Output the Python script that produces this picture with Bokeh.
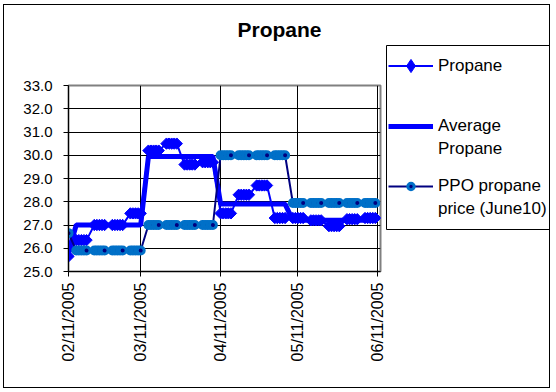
import pandas as pd
from math import pi
from bokeh.plotting import figure
from bokeh.layouts import row, column
from bokeh.models import (ColumnDataSource, FixedTicker, Legend, LegendItem,
                          PrintfTickFormatter, Range1d, InlineStyleSheet, Label)
from bokeh.embed import file_html
from bokeh.resources import INLINE

# ---------------- data ----------------
dates = [
    "2005-02-11",
    "2005-02-14", "2005-02-15", "2005-02-16", "2005-02-17", "2005-02-18",
    "2005-02-21", "2005-02-22", "2005-02-23", "2005-02-24", "2005-02-25",
    "2005-02-28", "2005-03-01", "2005-03-02", "2005-03-03", "2005-03-04",
    "2005-03-07", "2005-03-08", "2005-03-09", "2005-03-10", "2005-03-11",
    "2005-03-14", "2005-03-15", "2005-03-16", "2005-03-17", "2005-03-18",
    "2005-03-21", "2005-03-22", "2005-03-23", "2005-03-24", "2005-03-25",
    "2005-03-28", "2005-03-29", "2005-03-30", "2005-03-31", "2005-04-01",
    "2005-04-04", "2005-04-05", "2005-04-06", "2005-04-07", "2005-04-08",
    "2005-04-11", "2005-04-12", "2005-04-13", "2005-04-14", "2005-04-15",
    "2005-04-18", "2005-04-19", "2005-04-20", "2005-04-21", "2005-04-22",
    "2005-04-25", "2005-04-26", "2005-04-27", "2005-04-28", "2005-04-29",
    "2005-05-02", "2005-05-03", "2005-05-04", "2005-05-05", "2005-05-06",
    "2005-05-09", "2005-05-10", "2005-05-11", "2005-05-12", "2005-05-13",
    "2005-05-16", "2005-05-17", "2005-05-18", "2005-05-19", "2005-05-20",
    "2005-05-23", "2005-05-24", "2005-05-25", "2005-05-26", "2005-05-27",
    "2005-05-30", "2005-05-31", "2005-06-01", "2005-06-02", "2005-06-03",
    "2005-06-06", "2005-06-07", "2005-06-08", "2005-06-09", "2005-06-10",
]

propane = [
    25.65,
    26.35, 26.35, 26.35, 26.35, 26.35,
    27.0, 27.0, 27.0, 27.0, 27.0,
    27.0, 27.0, 27.0, 27.0, 27.0,
    27.5, 27.5, 27.5, 27.5, 27.5,
    30.2, 30.2, 30.2, 30.2, 30.2,
    30.5, 30.5, 30.5, 30.5, 30.5,
    29.6, 29.6, 29.6, 29.6, 29.6,
    29.7, 29.7, 29.7, 29.7, 29.7,
    27.5, 27.5, 27.5, 27.5, 27.5,
    28.3, 28.3, 28.3, 28.3, 28.3,
    28.7, 28.7, 28.7, 28.7, 28.7,
    27.3, 27.3, 27.3, 27.3, 27.3,
    27.3, 27.3, 27.3, 27.3, 27.3,
    27.2, 27.2, 27.2, 27.2, 27.2,
    26.95, 26.95, 26.95, 26.95, 26.95,
    27.25, 27.25, 27.25, 27.25, 27.25,
    27.3, 27.3, 27.3, 27.3, 27.3,
]

avg_propane = [
    25.85,
    27.0, 27.0, 27.0, 27.0, 27.0,
    27.0, 27.0, 27.0, 27.0, 27.0,
    27.0, 27.0, 27.0, 27.0, 27.0,
    27.0, 27.0, 27.0, 27.0, 27.0,
    29.95, 29.95, 29.95, 29.95, 29.95,
    29.95, 29.95, 29.95, 29.95, 29.95,
    29.95, 29.95, 29.95, 29.95, 29.95,
    29.95, 29.95, 29.95, 29.95, 29.95,
    27.9, 27.9, 27.9, 27.9, 27.9,
    27.9, 27.9, 27.9, 27.9, 27.9,
    27.9, 27.9, 27.9, 27.9, 27.9,
    27.9, 27.9, 27.9, 27.9, 27.9,
    27.2, 27.2, 27.2, 27.2, 27.2,
    27.2, 27.2, 27.2, 27.2, 27.2,
    27.2, 27.2, 27.2, 27.2, 27.2,
    27.2, 27.2, 27.2, 27.2, 27.2,
    27.2, 27.2, 27.2, 27.2, 27.2,
]

ppo_price = [
    26.65,
    25.9, 25.9, 25.9, 25.9, 25.9,
    25.9, 25.9, 25.9, 25.9, 25.9,
    25.9, 25.9, 25.9, 25.9, 25.9,
    25.9, 25.9, 25.9, 25.9, 25.9,
    27.0, 27.0, 27.0, 27.0, 27.0,
    27.0, 27.0, 27.0, 27.0, 27.0,
    27.0, 27.0, 27.0, 27.0, 27.0,
    27.0, 27.0, 27.0, 27.0, 27.0,
    30.0, 30.0, 30.0, 30.0, 30.0,
    30.0, 30.0, 30.0, 30.0, 30.0,
    30.0, 30.0, 30.0, 30.0, 30.0,
    30.0, 30.0, 30.0, 30.0, 30.0,
    27.95, 27.95, 27.95, 27.95, 27.95,
    27.95, 27.95, 27.95, 27.95, 27.95,
    27.95, 27.95, 27.95, 27.95, 27.95,
    27.95, 27.95, 27.95, 27.95, 27.95,
    27.95, 27.95, 27.95, 27.95, 27.95,
]

tick_dates = ["2005-02-11", "2005-03-11", "2005-04-11", "2005-05-11", "2005-06-11"]
tick_labels = ["02/11/2005", "03/11/2005", "04/11/2005", "05/11/2005", "06/11/2005"]
y_ticks = [25, 26, 27, 28, 29, 30, 31, 32, 33]
x_start, x_end = "2005-02-11", "2005-06-12"

title_text = "Propane"
# legend texts: (first line, second line)
legend_lines = [("Propane", None),
                ("Average", "Propane"),
                ("PPO propane", "price (June10)")]


def ms(s):
    return int(pd.Timestamp(s).value // 10**6)


FONT = "Liberation Sans"
BLUE = "#0000FF"
NAVY = "#000080"
SKY = "#0070C8"

src = ColumnDataSource(dict(x=pd.to_datetime(dates), propane=propane,
                            avg=avg_propane, ppo=ppo_price))

# ---------------- title strip ----------------
t = figure(width=547, height=40, x_range=Range1d(0, 547), y_range=Range1d(0, 40),
           output_backend="svg", toolbar_location=None,
           x_axis_location=None, y_axis_location=None, min_border=0)
t.grid.visible = False
t.outline_line_color = None
t.background_fill_color = "white"
t.border_fill_color = "white"
t.frame_align = False
t.add_layout(Label(x=276, y=15, text=title_text, text_align="center",
                   text_baseline="middle", text_font=FONT,
                   text_font_size="21px", text_font_style="bold",
                   text_color="black"))

# ---------------- main chart ----------------
p = figure(width=382, height=344, x_axis_type="datetime",
           x_range=Range1d(ms(x_start), ms(x_end)), y_range=Range1d(25, 33),
           output_backend="svg", toolbar_location=None,
           min_border_left=65, min_border_right=5,
           min_border_top=41, min_border_bottom=117)
p.frame_align = False
p.background_fill_color = "white"
p.border_fill_color = "white"
p.outline_line_color = "#808080"
p.outline_line_width = 2

xt = [ms(d) for d in tick_dates]
p.xaxis.ticker = FixedTicker(ticks=xt)
p.xaxis.major_label_overrides = {t_: lab for t_, lab in zip(xt, tick_labels)}
p.xaxis.major_label_orientation = pi / 2
p.yaxis.ticker = FixedTicker(ticks=y_ticks)
p.yaxis.formatter = PrintfTickFormatter(format="%.1f")
for ax in (p.xaxis, p.yaxis):
    ax.axis_line_color = "black"
    ax.axis_line_width = 1
    ax.major_tick_line_color = "black"
    ax.major_tick_out = 5
    ax.major_tick_in = 0
    ax.minor_tick_line_color = None
    ax.major_label_text_font = FONT
    ax.major_label_text_color = "black"
p.yaxis.major_label_text_font_size = "15px"
p.yaxis.major_label_standoff = 11
p.xaxis.major_label_text_font_size = "16px"
p.xaxis.major_label_standoff = 6

p.xgrid.grid_line_color = "black"
p.ygrid.grid_line_color = "black"

p.line("x", "propane", source=src, color=BLUE, line_width=2)
p.scatter("x", "propane", source=src, marker="square", angle=pi / 4,
          size=8, fill_color=BLUE, line_color=BLUE, line_width=1)
p.line("x", "avg", source=src, color=BLUE, line_width=5)
p.line("x", "ppo", source=src, color=NAVY, line_width=2)
p.scatter("x", "ppo", source=src, marker="circle", size=7,
          fill_color=NAVY, line_color=SKY, line_width=3)

# ---------------- legend panel ----------------
# ranges far away from the data, so the series only show up as legend glyphs
q = figure(width=165, height=344, x_range=Range1d(0, 1), y_range=Range1d(0, 1),
           output_backend="svg", toolbar_location=None,
           x_axis_location=None, y_axis_location=None,
           min_border_left=1, min_border_right=0,
           min_border_top=1, min_border_bottom=159)
q.frame_align = False
q.grid.visible = False
q.background_fill_color = "white"
q.border_fill_color = "white"
q.outline_line_color = "black"
q.outline_line_width = 1

l1 = q.line("x", "propane", source=src, color=BLUE, line_width=2)
l2 = q.scatter("x", "propane", source=src, marker="diamond", size=13,
               fill_color=BLUE, line_color=BLUE)
l3 = q.line("x", "avg", source=src, color=BLUE, line_width=5)
l4 = q.line("x", "ppo", source=src, color=NAVY, line_width=2)
l5 = q.scatter("x", "ppo", source=src, marker="circle", size=7,
               fill_color=NAVY, line_color=SKY, line_width=3)
blank = q.scatter("x", "ppo", source=src, marker="circle", size=1,
                  fill_alpha=0, line_alpha=0)

glyph_sets = [[l1, l2], [l3], [l4, l5]]
legend_y = [147, 69, 9]
glyph_h = [33, 16, 16]
for (first, second), rends, ly, gh in zip(legend_lines, glyph_sets, legend_y, glyph_h):
    items = [LegendItem(label=first, renderers=rends)]
    if second:
        items.append(LegendItem(label=second, renderers=[blank]))
    lg = Legend(items=items, location=(2, ly), orientation="vertical",
                border_line_color=None, background_fill_alpha=0,
                label_text_font=FONT, label_text_font_size="17px",
                label_text_color="black",
                glyph_width=45, glyph_height=gh, label_height=23,
                label_standoff=5, padding=0, spacing=0, margin=0)
    q.add_layout(lg, "center")

lay = column(t, row(p, q, spacing=0), spacing=0)
lay.styles = {"margin-left": "3px", "margin-top": "4px"}
lay.stylesheets = [InlineStyleSheet(css=(
    ":host { position: relative; }"
    ":host::after { content: ''; position: absolute; left: 0; top: 0;"
    " right: 0; bottom: 0; border: 1px solid black;"
    " pointer-events: none; z-index: 100; }"))]

open("out.html", "w").write(file_html(lay, INLINE))
